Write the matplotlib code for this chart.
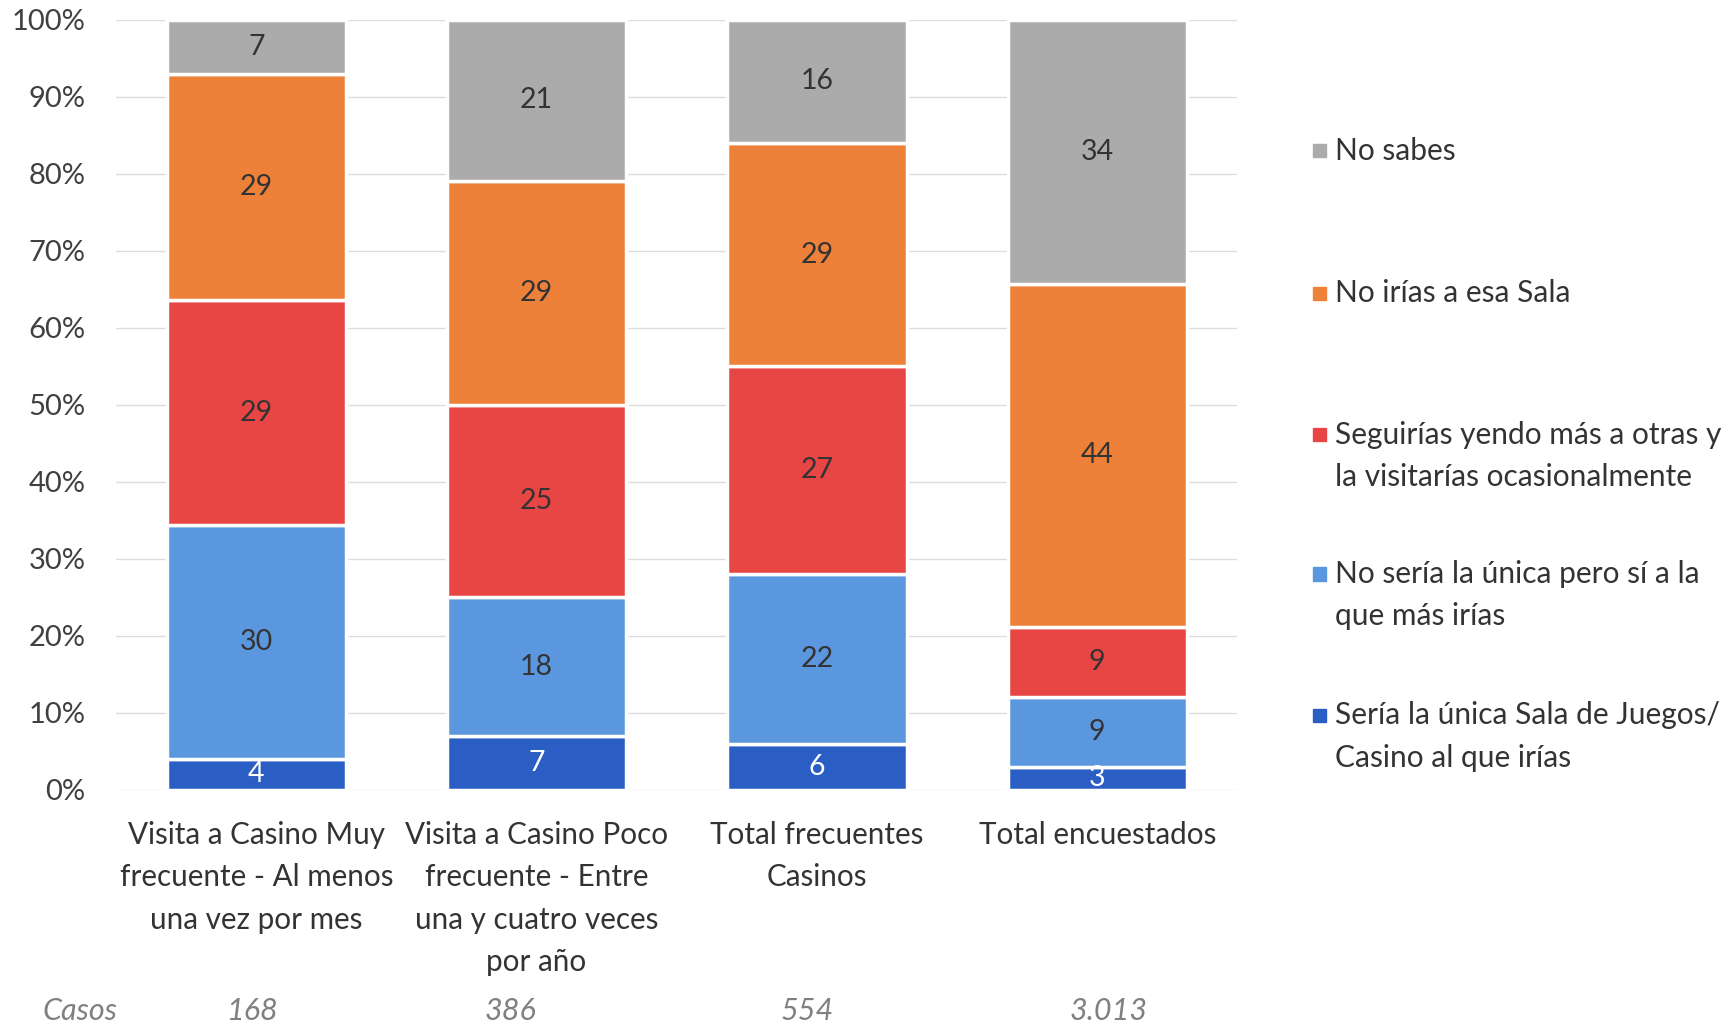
import matplotlib
matplotlib.use('Agg')
import matplotlib.pyplot as plt
import numpy as np
from matplotlib.patches import Rectangle

plt.rcParams['font.family'] = ['Lato', 'DejaVu Sans']

categories = ['Visita a Casino Muy\nfrecuente - Al menos\nuna vez por mes',
              'Visita a Casino Poco\nfrecuente - Entre\nuna y cuatro veces\npor año',
              'Total frecuentes\nCasinos',
              'Total encuestados']
casos = ['168', '386', '554', '3.013']

series = ['Sería la única Sala de Juegos/\nCasino al que irías',
          'No sería la única pero sí a la\nque más irías',
          'Seguirías yendo más a otras y\nla visitarías ocasionalmente',
          'No irías a esa Sala',
          'No sabes']
unica = [4, 7, 6, 3]
mas_irias = [30, 18, 22, 9]
otras = [29, 25, 27, 9]
no_irias = [29, 29, 29, 44]
no_sabes = [7, 21, 16, 34]

colors = ['#2B5EC4', '#5B97DE', '#E84545', '#EE8139', '#ABABAB']
label_colors = ['white', '#333333', '#333333', '#333333', '#333333']

data = np.array([unica, mas_irias, otras, no_irias, no_sabes], dtype=float)
pct = data / data.sum(axis=0) * 100  # 100% stacked

fig = plt.figure(figsize=(17.33, 10.32), dpi=100)
ax = fig.add_axes([0.067, 0.2345, 0.647, 0.7465])

x = np.arange(len(categories))
bottom = np.zeros(len(categories))
for i in range(len(series)):
    ax.bar(x, pct[i], 0.64, bottom=bottom, color=colors[i],
           edgecolor='white', linewidth=2.5, zorder=3)
    for j in range(len(categories)):
        ax.text(x[j], bottom[j] + pct[i][j] / 2, '%d' % data[i][j],
                ha='center', va='center', fontsize=20.5,
                color=label_colors[i], zorder=4)
    bottom += pct[i]

ax.set_xlim(-0.5, 3.5)
ax.set_ylim(0, 100)
ax.set_yticks(np.arange(0, 101, 10))
ax.set_yticklabels(['%d%%' % v for v in range(0, 101, 10)], fontsize=21, color='#404040')
ax.set_xticks(x)
ax.set_xticklabels(categories, fontsize=21.3, color='#333333', linespacing=1.63)
ax.tick_params(axis='y', length=0, pad=22)
ax.tick_params(axis='x', length=0, pad=22)
ax.grid(axis='y', color='#DDDDDD', linewidth=1, zorder=0)
for s in ax.spines.values():
    s.set_visible(False)

# Casos row
fig.text(0.046, 0.020, 'Casos', fontsize=22, style='italic', color='#808080',
         ha='center', va='center')
casos_dx = [-0.012, -0.094, -0.035, 0.04]
trans = matplotlib.transforms.blended_transform_factory(ax.transData, fig.transFigure)
for j in range(len(casos)):
    ax.text(x[j] + casos_dx[j], 0.020, casos[j], transform=trans, fontsize=22,
            style='italic', color='#808080', ha='center', va='center')

# legend, drawn by hand to keep Excel-like spacing
leg_y = [0.854, 0.716, 0.579, 0.444, 0.307]
for k, i in enumerate(range(len(series) - 1, -1, -1)):
    y = leg_y[k]
    fig.add_artist(Rectangle((0.7575, y - 0.0065), 0.0075, 0.0126,
                             transform=fig.transFigure, color=colors[i]))
    fig.text(0.7705, y + 0.0135, series[i], fontsize=21.5, color='#333333',
             ha='left', va='top', linespacing=1.63)

fig.savefig('out.png', dpi=100)
